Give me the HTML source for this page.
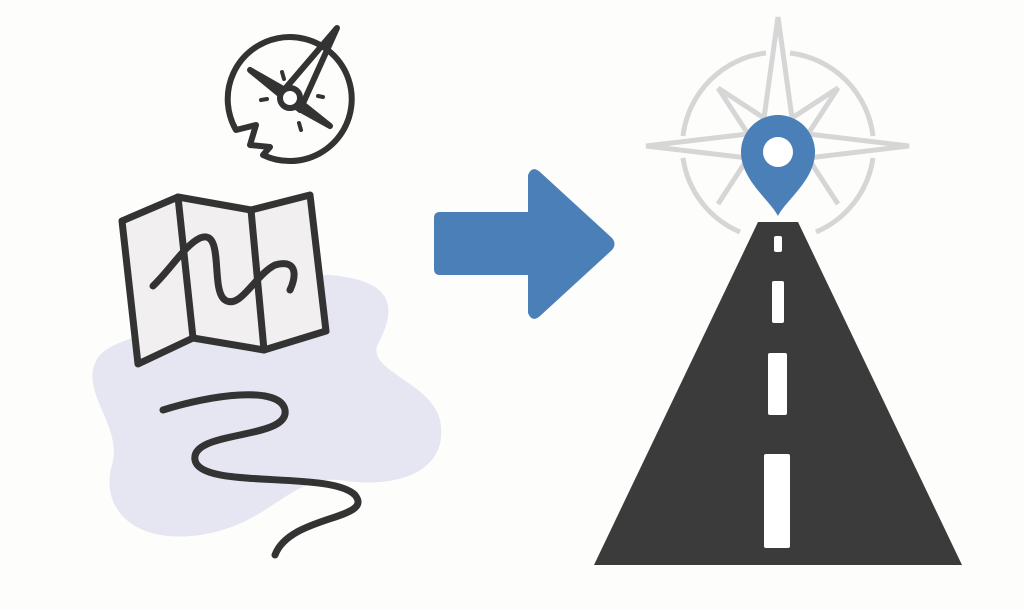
<!DOCTYPE html>
<html><head><style>body{margin:0;background:#fdfdfc}svg{display:block}</style></head><body>
<svg width="1024" height="610" viewBox="0 0 1024 610" xmlns="http://www.w3.org/2000/svg">
<rect width="1024" height="610" fill="#fdfdfc"/>
<!-- blob -->
<path d="M150 330 C200 300 260 270 330 275 C385 280 400 300 380 340 C360 370 430 380 440 420 C450 470 400 490 340 480 C290 475 270 525 200 535 C130 545 100 505 112 465 C122 430 88 400 93 370 C98 345 120 345 150 330Z" fill="#e6e5f2"/>
<!-- compass left -->
<g fill="none" stroke="#333" stroke-width="6" stroke-linejoin="round" stroke-linecap="round">
<path d="M263 155 A62 62 0 1 0 236 130 L256 125 L250 145 L270 147 Z"/>
<path d="M337 28 L284 90 L300 110 Z"/>
<path d="M250 70 L285 90 L330 126 L294 106 Z"/>
<circle cx="290" cy="98" r="10" fill="#fff"/>
<path d="M282 72 L284 79 M261 100 L267 99 M318 96 L323 97 M299 123 L301 130" stroke-width="4"/>
</g>
<!-- map -->
<g stroke="#333" stroke-width="7" stroke-linejoin="round" stroke-linecap="round">
<path d="M122 221 L178 197 L251 210 L310 195 L326 331 L264 350 L193 338 L138 364 Z" fill="#f1eff0"/>
<path d="M178 197 L193 338 M251 210 L264 350" fill="none"/>
<path d="M153 286 C170 270 185 245 200 238 C225 228 210 290 225 300 C240 310 255 275 275 265 C300 258 295 280 290 290" fill="none"/>
</g>
<!-- winding path -->
<path d="M163 410 C210 395 280 385 285 410 C290 440 190 430 195 460 C200 490 330 470 355 495 C375 520 290 515 275 555" fill="none" stroke="#333" stroke-width="7" stroke-linecap="round"/>
<!-- arrow -->
<path d="M440 212 L528 212 L528 175 Q532 165 540 172 L612 238 Q617 244 612 250 L540 316 Q532 323 528 313 L528 275 L440 275 Q434 275 434 269 L434 218 Q434 212 440 212Z" fill="#4a7fb8"/>
<!-- compass rose -->
<g fill="none" stroke="#d6d6d6" stroke-width="5">
<path d="M766 53 A95 95 0 0 0 683 136 M790 53 A95 95 0 0 1 873 136 M683 158 A95 95 0 0 0 740 232 M873 158 A95 95 0 0 1 816 232"/>
<path d="M778 17 L792 118 L838 88 L808 134 L909 146 L808 158 L838 204 M718 88 L764 118 L778 17 M718 88 L748 134 L646 146 L748 158 L718 204"/>
</g>
<!-- road -->
<path d="M758 222 L798 222 L962 565 L594 565 Z" fill="#3b3b3b"/>
<g fill="#fff">
<rect x="774" y="236" width="8" height="16" rx="2"/>
<rect x="772" y="281" width="12" height="42" rx="2"/>
<rect x="768" y="353" width="19" height="62" rx="2"/>
<rect x="764" y="454" width="26" height="94" rx="2"/>
</g>
<!-- pin -->
<path d="M778 216 C770 200 741 180 741 152 A37 37 0 0 1 815 152 C815 180 786 200 778 216Z" fill="#4a7fb8"/>
<circle cx="778" cy="152" r="15" fill="#fff"/>
</svg>
</body></html>
